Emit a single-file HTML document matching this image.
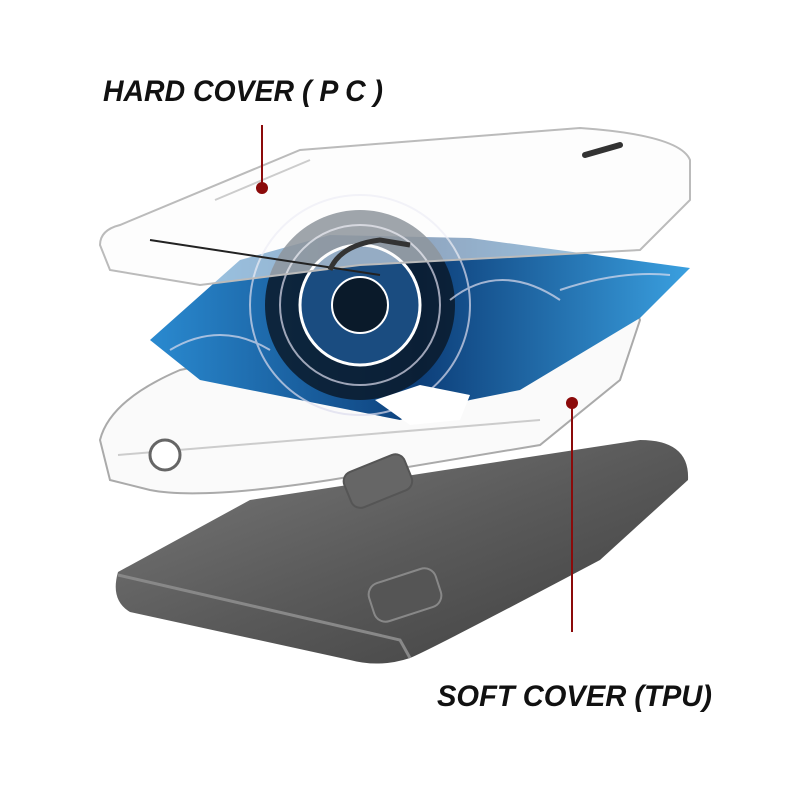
<!DOCTYPE html>
<html><head><meta charset="utf-8"><style>
html,body{margin:0;padding:0;background:#fff;width:800px;height:800px;overflow:hidden}
svg{display:block}
</style></head><body>
<svg width="800" height="800" viewBox="0 0 800 800" xmlns="http://www.w3.org/2000/svg">
<defs>
<linearGradient id="ph" x1="0" y1="0" x2="1" y2="1">
<stop offset="0" stop-color="#7a7a7a"/><stop offset="0.5" stop-color="#5a5a5a"/><stop offset="1" stop-color="#3e3e3e"/>
</linearGradient>
<linearGradient id="bl" x1="0" y1="0" x2="1" y2="0">
<stop offset="0" stop-color="#2a8ad0"/><stop offset="0.5" stop-color="#0d3f7a"/><stop offset="1" stop-color="#3aa0e0"/>
</linearGradient>
</defs>
<!-- phone -->
<path d="M118,572 L250,500 L640,440 Q690,440 688,480 L600,560 Q430,650 410,658 Q380,668 350,660 L130,612 Q110,600 118,572 Z" fill="url(#ph)"/>
<path d="M118,575 L400,640 L410,658" fill="none" stroke="#888" stroke-width="3"/>
<rect x="370" y="575" width="70" height="40" rx="12" transform="rotate(-18 405 595)" fill="#555" stroke="#888" stroke-width="2"/>
<!-- soft case -->
<path d="M100,440 Q110,400 180,370 L530,300 Q630,290 640,320 L620,380 L540,445 L330,480 Q200,500 150,490 L110,480 Z" fill="#f7f7f7" fill-opacity="0.6" stroke="#aaa" stroke-width="2"/>
<path d="M118,455 L540,420" stroke="#ccc" stroke-width="2"/>
<circle cx="165" cy="455" r="15" fill="#fff" stroke="#666" stroke-width="3"/>
<rect x="345" y="462" width="65" height="38" rx="10" transform="rotate(-22 378 480)" fill="#666" stroke="#555" stroke-width="2"/>
<!-- mandala card -->
<path d="M150,340 L240,260 L330,235 L470,238 L690,268 L640,318 L520,390 L470,400 L400,420 L300,400 L200,380 Z" fill="url(#bl)"/>
<circle cx="360" cy="305" r="95" fill="#0a1a2a" opacity="0.85"/>
<circle cx="360" cy="305" r="60" fill="#1a4c80" stroke="#fff" stroke-width="3"/>
<circle cx="360" cy="305" r="28" fill="#0a1a2a" stroke="#fff" stroke-width="2"/>
<g fill="none" stroke="#dde" stroke-width="2" opacity="0.7">
<circle cx="360" cy="305" r="80"/><circle cx="360" cy="305" r="110"/>
<path d="M170,350 Q220,320 270,350"/><path d="M450,300 Q500,260 560,300"/><path d="M560,290 Q620,270 670,275"/>
</g>
<path d="M375,400 L420,385 L470,395 L460,420 L410,425 Z" fill="#fff"/>
<!-- hard cover -->
<path d="M100,245 Q100,230 120,225 L300,150 L580,128 Q680,135 690,160 L690,200 L640,250 L360,265 L200,285 L110,270 Z" fill="#fbfbfb" fill-opacity="0.55" stroke="#bbb" stroke-width="2"/>
<path d="M150,240 L380,275" stroke="#222" stroke-width="2"/>
<path d="M215,200 L310,160" stroke="#ccc" stroke-width="2"/>
<path d="M585,155 L620,145" stroke="#333" stroke-width="6" stroke-linecap="round"/>
<path d="M330,270 Q340,245 380,240 L410,245" fill="none" stroke="#333" stroke-width="5"/>
<!-- callouts -->
<line x1="262" y1="125" x2="262" y2="188" stroke="#8b0a0a" stroke-width="2"/>
<circle cx="262" cy="188" r="6" fill="#8b0a0a"/>
<line x1="572" y1="403" x2="572" y2="632" stroke="#8b0a0a" stroke-width="2"/>
<circle cx="572" cy="403" r="6" fill="#8b0a0a"/>
<text x="103" y="101" font-family="Liberation Sans, sans-serif" font-style="italic" font-weight="bold" font-size="30" fill="#111" textLength="280" lengthAdjust="spacingAndGlyphs">HARD COVER ( P C )</text>
<text x="437" y="706" font-family="Liberation Sans, sans-serif" font-style="italic" font-weight="bold" font-size="30" fill="#111" textLength="275" lengthAdjust="spacingAndGlyphs">SOFT COVER (TPU)</text>
</svg>
</body></html>
